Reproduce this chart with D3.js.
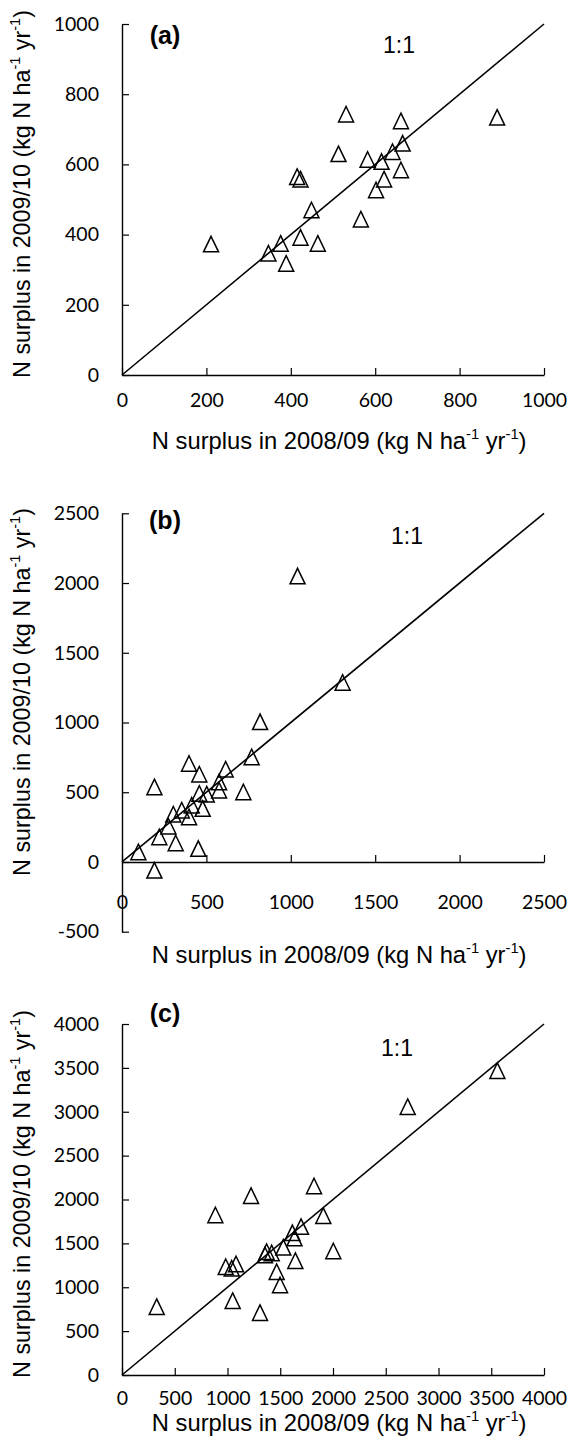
<!DOCTYPE html>
<html>
<head>
<meta charset="utf-8">
<script src="https://cdn.jsdelivr.net/npm/d3@7"></script>
<style>
  html, body { margin: 0; padding: 0; background: #fff; }
  svg { display: block; }
</style>
</head>
<body>
<svg id="chart" width="573" height="1448"></svg>
<script>
// ---------------- data ----------------
const panelLabels = ["(a)", "(b)", "(c)"];
const xTitleMain = "N surplus in 2008/09 (kg N ha";
const yTitleMain = "N surplus in 2009/10 (kg N ha";

// panel (a)
const aX = [211, 531, 661, 889, 665, 641, 513, 582, 615, 661, 621, 602, 415, 423, 449, 566, 423, 464, 376, 347, 389];
const aY = [373, 743, 724, 734, 660, 636, 630, 614, 608, 584, 558, 527, 565, 558, 470, 444, 392, 375, 375, 347, 318];
const aXTicks = [0, 200, 400, 600, 800, 1000];
const aYTicks = [0, 200, 400, 600, 800, 1000];

// panel (b)
const bX = [1040, 1307, 818, 768, 397, 458, 614, 192, 719, 575, 575, 458, 502, 413, 478, 354, 397, 304, 275, 221, 318, 452, 97, 192];
const bY = [2050, 1287, 1005, 753, 706, 629, 665, 538, 502, 574, 514, 491, 486, 407, 383, 371, 323, 342, 256, 179, 136, 96, 72, -60];
const bXTicks = [0, 500, 1000, 1500, 2000, 2500];
const bYTicks = [-500, 0, 500, 1000, 1500, 2000, 2500];

// panel (c)
const cX = [3558, 2708, 1820, 1223, 885, 1908, 1697, 1615, 1635, 2003, 1529, 1371, 1355, 1419, 1643, 983, 1081, 1040, 1466, 1498, 1049, 1308, 329];
const cY = [3468, 3058, 2154, 2044, 1823, 1816, 1691, 1620, 1560, 1413, 1455, 1405, 1368, 1390, 1303, 1234, 1265, 1216, 1177, 1026, 847, 710, 779];
const cXTicks = [0, 500, 1000, 1500, 2000, 2500, 3000, 3500, 4000];
const cYTicks = [0, 500, 1000, 1500, 2000, 2500, 3000, 3500, 4000];

// ---------------- layout ----------------
const svg = d3.select("#chart");
const tickFont = "Lato, 'Open Sans', sans-serif";
const titleFont = "'Liberation Sans', Arial, sans-serif";
const fmt = d => String(d);

const panels = [
  { label: panelLabels[0], xs: aX, ys: aY, xTicks: aXTicks, yTicks: aYTicks,
    xDom: [0, 1000], yDom: [0, 1000], yRange: [375, 24], xPad: 18,
    xTitleY: 443, yTitleC: 194, labelPos: [165, 37], ratioPos: [399, 47] },
  { label: panelLabels[1], xs: bX, ys: bY, xTicks: bXTicks, yTicks: bYTicks,
    xDom: [0, 2500], yDom: [-500, 2500], yRange: [931.7, 513.3], xPad: 33,
    xTitleY: 957, yTitleC: 692, labelPos: [165, 522], ratioPos: [407, 538] },
  { label: panelLabels[2], xs: cX, ys: cY, xTicks: cXTicks, yTicks: cYTicks,
    xDom: [0, 4000], yDom: [0, 4000], yRange: [1375, 1024], xPad: 16,
    xTitleY: 1425, yTitleC: 1194, labelPos: [165, 1015], ratioPos: [397, 1050] }
];

const X0 = 122, X1 = 544;
const triW = 15, triH = 15.5;
const triPath = `M0,${-triH/2} L${triW/2},${triH/2} L${-triW/2},${triH/2} Z`;

function addTitle(g, main, x, y, rotate, targetLen) {
  const t = g.append("text")
    .attr("font-family", titleFont)
    .attr("font-size", 22)
    .attr("fill", "#000")
    .attr("text-anchor", "middle")
    .attr("dominant-baseline", "middle")
    .attr("transform", rotate ? `translate(${x},${y}) rotate(-90)` : `translate(${x},${y})`);
  t.append("tspan").text(main);
  t.append("tspan").attr("font-size", "0.62em").attr("dy", "-0.55em").text("-1");
  t.append("tspan").attr("dy", "0.34em").text(" yr");
  t.append("tspan").attr("font-size", "0.62em").attr("dy", "-0.55em").text("-1");
  t.append("tspan").attr("dy", "0.34em").text(")");
  const len = t.node().getComputedTextLength();
  if (len > 0) t.attr("font-size", 22 * targetLen / len);
  return t;
}

panels.forEach(p => {
  const x = d3.scaleLinear().domain(p.xDom).range([X0, X1]);
  const y = d3.scaleLinear().domain(p.yDom).range(p.yRange);
  const g = svg.append("g");

  // x axis at y = 0
  const xAxis = d3.axisBottom(x).tickValues(p.xTicks).tickFormat(fmt)
    .tickSizeInner(-7).tickSizeOuter(0).tickPadding(p.xPad);
  const gx = g.append("g").attr("transform", `translate(0,${y(0)})`).call(xAxis);

  // y axis
  const yAxis = d3.axisLeft(y).tickValues(p.yTicks).tickFormat(fmt)
    .tickSizeInner(-7).tickSizeOuter(0).tickPadding(23);
  const gy = g.append("g").attr("transform", `translate(${X0},0)`).call(yAxis);

  [gx, gy].forEach(a => {
    a.selectAll("path.domain").attr("stroke", "#000").attr("stroke-width", 1.4);
    a.selectAll(".tick line").attr("stroke", "#000").attr("stroke-width", 1.2);
    a.selectAll(".tick text").attr("font-family", tickFont).attr("font-size", 19.5).attr("fill", "#000");
  });

  // 1:1 line
  const lo = Math.max(p.xDom[0], 0), hi = p.xDom[1];
  g.append("line")
    .attr("x1", x(lo)).attr("y1", y(lo))
    .attr("x2", x(hi)).attr("y2", y(hi))
    .attr("stroke", "#000").attr("stroke-width", 1.6);

  // points
  g.append("g").selectAll("path")
    .data(p.xs.map((v, i) => [v, p.ys[i]]))
    .join("path")
    .attr("d", triPath)
    .attr("transform", d => `translate(${x(d[0])},${y(d[1])})`)
    .attr("fill", "#fff").attr("fill-opacity", 0)
    .attr("stroke", "#000").attr("stroke-width", 1.5)
    .attr("stroke-linejoin", "miter");

  // labels
  g.append("text").attr("x", p.labelPos[0]).attr("y", p.labelPos[1])
    .attr("text-anchor", "middle").attr("dominant-baseline", "middle")
    .attr("font-family", titleFont).attr("font-weight", "bold").attr("font-size", 25)
    .text(p.label);
  g.append("text").attr("x", p.ratioPos[0]).attr("y", p.ratioPos[1])
    .attr("text-anchor", "middle").attr("dominant-baseline", "middle")
    .attr("font-family", titleFont).attr("font-size", 23)
    .text("1:1");

  // axis titles
  addTitle(g, xTitleMain, (151.7 + 526.7) / 2, p.xTitleY, false, 375);
  addTitle(g, yTitleMain, 24, p.yTitleC, true, 368);
});
</script>
</body>
</html>
